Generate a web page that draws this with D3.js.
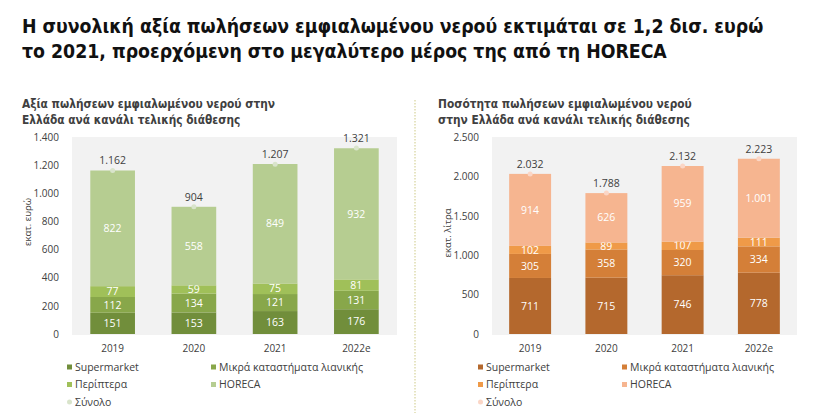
<!DOCTYPE html>
<html>
<head>
<meta charset="utf-8">
<script src="https://cdn.jsdelivr.net/npm/d3@7"></script>
<style>
  body { margin: 0; background: #fff; }
  svg { display: block; }
  .title { font-family: "DejaVu Sans Condensed", "DejaVu Sans", sans-serif; font-weight: bold; font-size: 19.3px; fill: #111; }
  .subtitle { font-family: "DejaVu Sans Condensed", "DejaVu Sans", sans-serif; font-weight: bold; font-size: 11.8px; fill: #404040; }
  .lbl { font-family: "Open Sans", sans-serif; font-size: 10.5px; fill: #404040; }
  .ytitle { font-family: "Open Sans", sans-serif; font-size: 9.5px; fill: #404040; }
  .seg { font-family: "Open Sans", sans-serif; font-size: 10.5px; fill: #fff; }
  .axis text { font-family: "Open Sans", sans-serif; font-size: 10px; fill: #404040; }
</style>
</head>
<body>
<svg id="chart" width="820" height="415"></svg>
<script>
var years = ["2019", "2020", "2021", "2022e"];
var seriesNames = ["Supermarket", "Μικρά καταστήματα λιανικής", "Περίπτερα", "HORECA"];

// αξία, εκατ. ευρώ
var valueSupermarket = [151, 153, 163, 176];
var valueSmallRetail = [112, 134, 121, 131];
var valueKiosk = [77, 59, 75, 81];
var valueHoreca = [822, 558, 849, 932];
var valueTotal = [1162, 904, 1207, 1321];
var valueTicks = [0, 200, 400, 600, 800, 1000, 1200, 1400];

// ποσότητα, εκατ. λίτρα
var volumeSupermarket = [711, 715, 746, 778];
var volumeSmallRetail = [305, 358, 320, 334];
var volumeKiosk = [102, 89, 107, 111];
var volumeHoreca = [914, 626, 959, 1001];
var volumeTotal = [2032, 1788, 2132, 2223];
var volumeTicks = [0, 500, 1000, 1500, 2000, 2500];

var fmt = d3.formatLocale({decimal: ",", thousands: ".", grouping: [3], currency: ["", ""]}).format(",");

var svg = d3.select("#chart");

svg.append("text").attr("class", "title").attr("x", 22).attr("y", 33)
  .text("Η συνολική αξία πωλήσεων εμφιαλωμένου νερού εκτιμάται σε 1,2 δισ. ευρώ");
svg.append("text").attr("class", "title").attr("x", 22).attr("y", 58)
  .text("το 2021, προερχόμενη στο μεγαλύτερο μέρος της από τη HORECA");

// dotted divider between the two charts
svg.append("line")
  .attr("x1", 415).attr("x2", 415).attr("y1", 100).attr("y2", 413)
  .attr("stroke", "#d6d39a").attr("stroke-width", 1.2).attr("stroke-dasharray", "1.5,1.5");

function drawChart(cfg) {
  var g = svg.append("g");

  cfg.subtitle.forEach(function(t, i) {
    g.append("text").attr("class", "subtitle").attr("x", cfg.titleX).attr("y", 108 + i * 16).text(t);
  });

  var x = d3.scaleBand().domain(years).range([cfg.left, cfg.right]).paddingInner(0.45).paddingOuter(0.225);
  var y = d3.scaleLinear().domain([0, cfg.max]).range([334, 137]);

  g.append("rect")
    .attr("x", cfg.left).attr("y", y(cfg.max))
    .attr("width", cfg.right - cfg.left).attr("height", y(0) - y(cfg.max) + 1)
    .attr("fill", "#f2f2f2");

  g.append("g")
    .attr("class", "axis")
    .attr("transform", "translate(" + (cfg.left - 10) + ",0)")
    .call(d3.axisLeft(y).tickValues(cfg.ticks).tickFormat(fmt).tickSize(0))
    .call(function(a) { a.select(".domain").remove(); });

  g.append("g")
    .attr("class", "axis")
    .attr("transform", "translate(0,342)")
    .call(d3.axisBottom(x).tickSize(0).tickPadding(3))
    .call(function(a) { a.select(".domain").remove(); });

  g.append("text").attr("class", "ytitle")
    .attr("transform", "translate(" + cfg.yTitleX + "," + cfg.yTitleY + ") rotate(-90)")
    .attr("text-anchor", "middle").attr("dy", "0.35em")
    .text(cfg.yTitle);

  var rows = years.map(function(yr, i) {
    var r = {year: yr};
    cfg.series.forEach(function(s, k) { r[k] = s[i]; });
    return r;
  });
  var stack = d3.stack().keys(d3.range(cfg.series.length))(rows);

  stack.forEach(function(layer, k) {
    g.selectAll(".bar-" + k)
      .data(layer)
      .enter().append("rect")
        .attr("x", function(d) { return x(d.data.year); })
        .attr("y", function(d) { return y(d[1]); })
        .attr("width", x.bandwidth())
        .attr("height", function(d) { return y(d[0]) - y(d[1]); })
        .attr("fill", cfg.colors[k]);

    g.selectAll(".seg-" + k)
      .data(layer)
      .enter().append("text")
        .attr("class", "seg")
        .attr("text-anchor", "middle")
        .attr("dy", "0.35em")
        .attr("x", function(d) { return x(d.data.year) + x.bandwidth() / 2; })
        .attr("y", function(d) { return (y(d[0]) + y(d[1])) / 2; })
        .text(function(d) { return fmt(d.data[k]); });
  });

  // Σύνολο markers and labels
  g.selectAll(".tot")
    .data(cfg.total)
    .enter().append("circle")
      .attr("cx", function(d, i) { return x(years[i]) + x.bandwidth() / 2; })
      .attr("cy", function(d) { return y(d); })
      .attr("r", 2.5)
      .attr("fill", cfg.totalColor);

  g.selectAll(".tot-lbl")
    .data(cfg.total)
    .enter().append("text")
      .attr("class", "lbl")
      .attr("text-anchor", "middle")
      .attr("x", function(d, i) { return x(years[i]) + x.bandwidth() / 2; })
      .attr("y", function(d) { return y(d) - 6; })
      .text(function(d) { return fmt(d); });

  // legend
  var legendItems = seriesNames.map(function(n, k) { return {name: n, color: cfg.colors[k], shape: "rect"}; });
  legendItems.push({name: "Σύνολο", color: cfg.totalColor, shape: "circle"});
  legendItems.forEach(function(it, i) {
    var lx = i % 2 === 0 ? cfg.legendX1 : cfg.legendX2;
    var ly = 367 + Math.floor(i / 2) * 17.5;
    if (it.shape === "rect") {
      g.append("rect").attr("x", lx).attr("y", ly - 2.5).attr("width", 5).attr("height", 5).attr("fill", it.color);
    } else {
      g.append("circle").attr("cx", lx + 2.5).attr("cy", ly).attr("r", 2.5).attr("fill", it.color);
    }
    g.append("text").attr("class", "lbl").attr("x", lx + 8).attr("y", ly).attr("dy", "0.35em").text(it.name);
  });
}

drawChart({
  subtitle: ["Αξία πωλήσεων εμφιαλωμένου νερού στην", "Ελλάδα ανά κανάλι τελικής διάθεσης"],
  titleX: 22,
  left: 72, right: 397,
  max: 1400, ticks: valueTicks,
  yTitle: "εκατ. ευρώ", yTitleX: 28, yTitleY: 222,
  series: [valueSupermarket, valueSmallRetail, valueKiosk, valueHoreca],
  total: valueTotal,
  colors: ["#718e3b", "#88a74a", "#a0c059", "#b6cd91"],
  totalColor: "#d9e4cb",
  legendX1: 67, legendX2: 211
});

drawChart({
  subtitle: ["Ποσότητα πωλήσεων εμφιαλωμένου νερού", "στην Ελλάδα ανά κανάλι τελικής διάθεσης"],
  titleX: 438,
  left: 492, right: 797,
  max: 2500, ticks: volumeTicks,
  yTitle: "εκατ. λίτρα", yTitleX: 448, yTitleY: 233,
  series: [volumeSupermarket, volumeSmallRetail, volumeKiosk, volumeHoreca],
  total: volumeTotal,
  colors: ["#b4682d", "#d47f38", "#ef9a48", "#f6b590"],
  totalColor: "#fbd6c6",
  legendX1: 478, legendX2: 622
});
</script>
</body>
</html>
